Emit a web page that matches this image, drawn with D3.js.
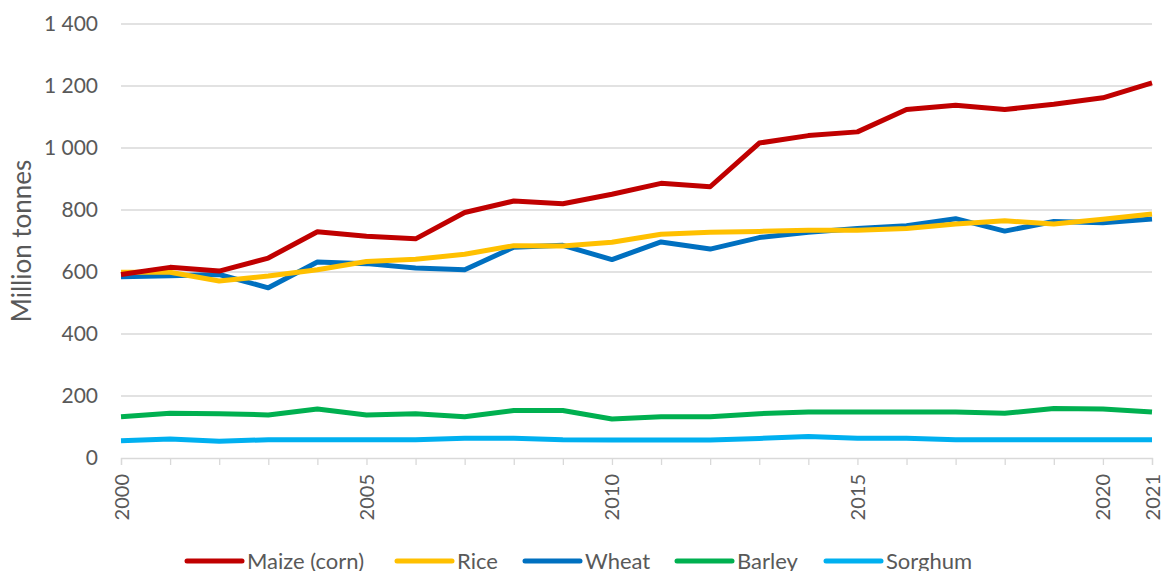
<!DOCTYPE html>
<html lang="en">
<head>
<meta charset="UTF-8">
<title>Cereal production</title>
<script src="https://d3js.org/d3.v7.min.js"></script>
<style>
  body { margin: 0; background: #fff; }
  svg { display: block; font-family: Lato, "Open Sans", sans-serif; }
  text { fill: #595959; }
</style>
</head>
<body>
<svg id="chart" width="1164" height="571"></svg>
<script>
// years and production in million tonnes
const years = d3.range(2000, 2022);
const maize   = [592, 615, 603, 645, 730, 715, 707, 792, 829, 820, 851, 886, 875, 1016, 1040, 1052, 1124, 1138, 1124, 1141, 1162, 1210];
const rice    = [599, 599, 571, 587, 607, 634, 641, 657, 685, 684, 696, 722, 728, 731, 735, 735, 740, 755, 765, 755, 770, 787];
const wheat   = [585, 588, 592, 549, 632, 627, 613, 607, 680, 686, 640, 697, 674, 711, 728, 740, 749, 772, 732, 763, 759, 771];
const barley  = [133, 144, 143, 139, 158, 139, 143, 133, 153, 153, 126, 133, 133, 143, 148, 148, 148, 148, 144, 160, 158, 148];
const sorghum = [56, 61, 54, 59, 59, 59, 59, 64, 64, 59, 58, 58, 58, 63, 69, 64, 64, 59, 59, 59, 59, 59];
const yTicks = [0, 200, 400, 600, 800, 1000, 1200, 1400];
const xLabels = [2000, 2005, 2010, 2015, 2020, 2021];

const series = [
  { name: "Maize (corn)", values: maize,   color: "#C00000" },
  { name: "Rice",         values: rice,    color: "#FFC000" },
  { name: "Wheat",        values: wheat,   color: "#0070C0" },
  { name: "Barley",       values: barley,  color: "#00B050" },
  { name: "Sorghum",      values: sorghum, color: "#00B0F0" }
];

const svg = d3.select("#chart");
const plotLeft = 121, plotRight = 1152, plotTop = 24, plotBottom = 458;

const x = d3.scaleLinear().domain([2000, 2021]).range([plotLeft, plotRight]);
const y = d3.scaleLinear().domain([0, 1400]).range([plotBottom, plotTop]);

// gridlines
svg.append("g")
  .selectAll("line")
  .data(yTicks.filter(d => d > 0))
  .join("line")
  .attr("x1", plotLeft).attr("x2", plotRight)
  .attr("y1", d => y(d)).attr("y2", d => y(d))
  .attr("stroke", "#D9D9D9").attr("stroke-width", 1.3);

// y axis labels
const yAxis = svg.append("g")
  .attr("transform", `translate(${plotLeft},0)`)
  .call(d3.axisLeft(y).tickValues(yTicks).tickSize(0).tickPadding(23)
    .tickFormat(d => d3.format(",")(d).replace(",", " ")));
yAxis.select(".domain").remove();
yAxis.selectAll("text").attr("font-size", 21).attr("fill", "#595959")
  .attr("font-family", "Lato, 'Open Sans', sans-serif");

// x axis
const xAxis = svg.append("g")
  .attr("transform", `translate(0,${plotBottom})`)
  .call(d3.axisBottom(x).tickValues(years).tickSize(7)
    .tickFormat(d => xLabels.includes(d) ? d : ""));
xAxis.select(".domain").attr("stroke", "#D9D9D9").attr("stroke-width", 1.3);
xAxis.selectAll(".tick line").attr("stroke", "#D9D9D9").attr("stroke-width", 1.3);
xAxis.selectAll("text")
  .attr("font-size", 20).attr("fill", "#595959")
  .attr("font-family", "Lato, 'Open Sans', sans-serif")
  .attr("transform", "rotate(-90)")
  .attr("text-anchor", "end")
  .attr("x", -16).attr("y", 0).attr("dy", "0.35em");

// y title
svg.append("text")
  .attr("transform", "translate(31,241) rotate(-90)")
  .attr("text-anchor", "middle")
  .attr("font-size", 26)
  .text("Million tonnes");

// lines
const line = d3.line()
  .x((d, i) => x(years[i]))
  .y(d => y(d));

svg.append("g")
  .selectAll("path")
  .data(series.slice().reverse())
  .join("path")
  .attr("d", d => line(d.values))
  .attr("fill", "none")
  .attr("stroke", d => d.color)
  .attr("stroke-width", 5)
  .attr("stroke-linejoin", "round");

// legend
const legendX = [187, 397, 525, 677, 826];
const legend = svg.append("g")
  .selectAll("g")
  .data(series)
  .join("g")
  .attr("transform", (d, i) => `translate(${legendX[i]},561)`);
legend.append("line")
  .attr("x1", 0).attr("x2", 55)
  .attr("stroke", d => d.color)
  .attr("stroke-width", 5)
  .attr("stroke-linecap", "round");
legend.append("text")
  .attr("x", 60)
  .attr("dy", "0.35em")
  .attr("font-size", 22)
  .text(d => d.name);
</script>
</body>
</html>
